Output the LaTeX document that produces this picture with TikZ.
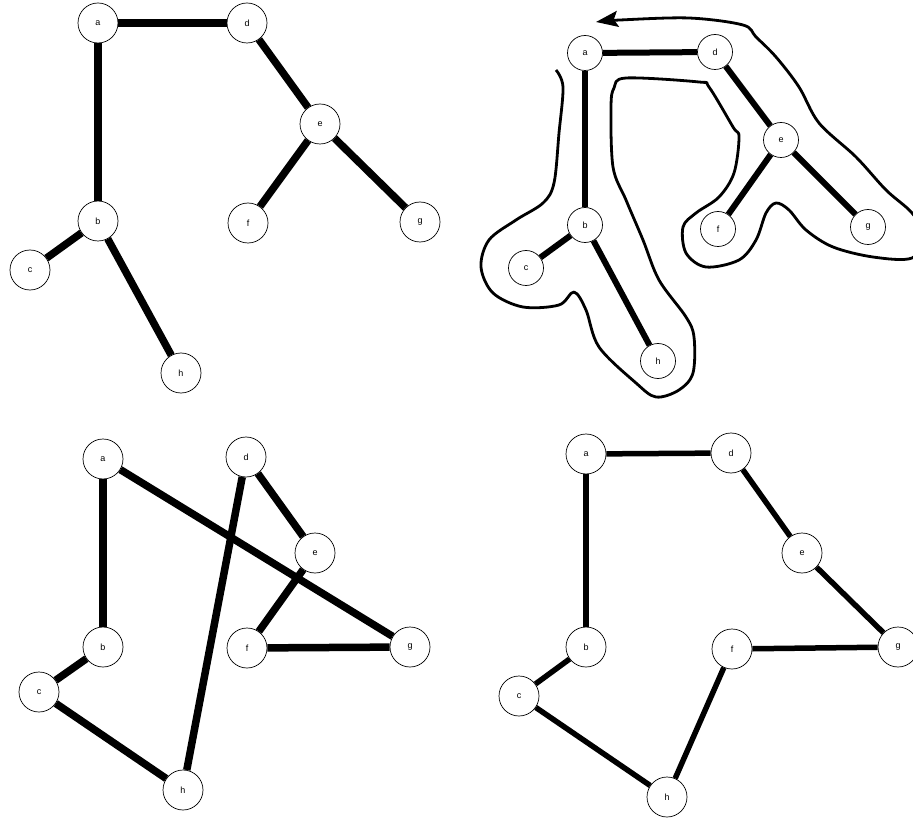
\documentclass[tikz,border=0pt]{standalone}
\usepackage{fontspec}
\setsansfont{Liberation Sans}
\usetikzlibrary{arrows.meta}

\begin{document}
\begin{tikzpicture}[x=1pt, y=-1pt,
    vert/.style={circle, draw, line width=0.7pt, fill=white, minimum size=40pt,
        inner sep=0pt, font=\sffamily\fontsize{9}{9}\selectfont},
    svert/.style={vert, minimum size=35pt},
    tedge/.style={line width=7.5pt},
    thinedge/.style={line width=5.5pt},
    tour/.style={line width=2.8pt, line join=round}]
    \useasboundingbox (0,0) rectangle (913,818);

    % spanning tree
    \node[vert] (a1) at (98,23) {a};
    \node[vert] (d1) at (247,23) {d};
    \node[vert] (e1) at (320,124) {e};
    \node[vert] (b1) at (98,221) {b};
    \node[vert] (c1) at (30,270) {c};
    \node[vert] (f1) at (248,223) {f};
    \node[vert] (g1) at (420,222) {g};
    \node[vert] (h1) at (181,373) {h};
    \draw[tedge] (a1) -- (d1);
    \draw[tedge] (d1) -- (e1);
    \draw[tedge] (e1) -- (f1);
    \draw[tedge] (e1) -- (g1);
    \draw[tedge] (a1) -- (b1);
    \draw[tedge] (b1) -- (c1);
    \draw[tedge] (b1) -- (h1);

    % walk round the tree
    \node[svert] (a2) at (585,53) {a};
    \node[svert] (d2) at (715,52) {d};
    \node[svert] (e2) at (781,140) {e};
    \node[svert] (b2) at (585,225) {b};
    \node[svert] (c2) at (526,268) {c};
    \node[svert] (f2) at (718,229) {f};
    \node[svert] (g2) at (868,227) {g};
    \node[svert] (h2) at (658,361) {h};
    \draw[line width=6pt] (a2) -- (d2);
    \draw[line width=6pt] (d2) -- (e2);
    \draw[line width=6pt] (e2) -- (f2);
    \draw[line width=6pt] (e2) -- (g2);
    \draw[line width=6pt] (a2) -- (b2);
    \draw[line width=6pt] (b2) -- (c2);
    \draw[line width=6pt] (b2) -- (h2);
    \begin{scope}
        \clip (0,0) rectangle (913,818);
        \draw[tour, -{Stealth[length=22pt, width=16pt, inset=4pt]}] plot[smooth, tension=0.55] coordinates {
            (556,70) (563,87) (559,133) (554,183) (543,203) (516,220) (489,240)
            (481,267) (493,293) (523,307) (559,305) (574,292) (586,310) (599,347)
            (636,383) (656,397) (679,390) (693,373) (694,337) (686,317) (659,280)
            (643,240) (626,200) (613,167) (611,107) (614,88) (626,78) (699,82)
            (709,87) (733,127) (739,137) (734,173) (719,197) (696,213) (683,227)
            (686,253) (706,267) (739,260) (756,240) (766,213) (776,203) (789,210)
            (806,230) (833,247) (873,257) (912,258) (924,236) (912,213) (886,190)
            (856,157) (819,123) (799,87) (776,57) (756,37) (743,25) (689,18) (620,20) (596,22)};
    \end{scope}

    % tour from preorder
    \node[vert] (a3) at (103,459) {a};
    \node[vert] (d3) at (246,457) {d};
    \node[vert] (e3) at (315,553) {e};
    \node[vert] (b3) at (103,647) {b};
    \node[vert] (c3) at (39,692) {c};
    \node[vert] (f3) at (247,648) {f};
    \node[vert] (g3) at (410,647) {g};
    \node[vert] (h3) at (183,790) {h};
    \draw[tedge] (a3) -- (b3);
    \draw[tedge] (b3) -- (c3);
    \draw[tedge] (c3) -- (h3);
    \draw[tedge] (h3) -- (d3);
    \draw[tedge] (d3) -- (e3);
    \draw[tedge] (e3) -- (f3);
    \draw[tedge] (f3) -- (g3);
    \draw[tedge] (g3) -- (a3);

    % optimal tour
    \node[vert] (a4) at (586,454) {a};
    \node[vert] (d4) at (731,453) {d};
    \node[vert] (e4) at (802,553) {e};
    \node[vert] (g4) at (898,647) {g};
    \node[vert] (f4) at (732,649) {f};
    \node[vert] (b4) at (586,647) {b};
    \node[vert] (c4) at (519,696) {c};
    \node[vert] (h4) at (667,797) {h};
    \draw[thinedge] (a4) -- (d4);
    \draw[thinedge] (d4) -- (e4);
    \draw[thinedge] (e4) -- (g4);
    \draw[thinedge] (g4) -- (f4);
    \draw[thinedge] (f4) -- (h4);
    \draw[thinedge] (h4) -- (c4);
    \draw[thinedge] (c4) -- (b4);
    \draw[thinedge] (b4) -- (a4);
\end{tikzpicture}
\end{document}
